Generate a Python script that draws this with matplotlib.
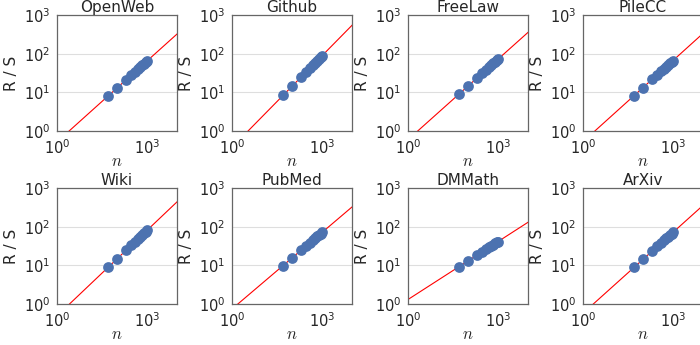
import matplotlib
matplotlib.use("Agg")
import matplotlib.pyplot as plt
import numpy as np

plt.rcParams['font.family'] = ['DejaVu Sans']
plt.rcParams['mathtext.fontset'] = 'cm'

titles = ["OpenWeb", "Github", "FreeLaw", "PileCC",
          "Wiki", "PubMed", "DMMath", "ArXiv"]
n_vals = [50, 100, 200, 300, 400, 500, 600, 700, 800, 900, 1000]

rs_openweb = [8.0, 13.0, 21.0, 27.9, 34.0, 39.8, 45.2, 50.4, 55.3, 60.0, 64.8]
rs_github = [8.3, 14.3, 24.7, 34.0, 42.7, 51.0, 58.9, 66.5, 73.9, 81.0, 88.0]
rs_freelaw = [9.0, 14.6, 23.5, 31.0, 38.0, 44.5, 50.5, 56.0, 61.5, 67.0, 72.0]
rs_pilecc = [8.2, 13.3, 21.5, 28.5, 35.0, 41.0, 46.5, 52.0, 57.0, 62.0, 66.5]
rs_wiki = [8.8, 14.7, 24.5, 33.0, 40.8, 48.2, 55.0, 61.6, 68.0, 74.2, 80.0]
rs_pubmed = [9.8, 15.5, 24.5, 32.0, 38.7, 44.8, 50.5, 55.9, 61.0, 66.0, 70.7]
rs_dmmath = [9.2, 13.0, 18.5, 22.6, 26.0, 29.1, 31.9, 34.4, 36.8, 39.0, 41.0]
rs_arxiv = [8.8, 14.3, 23.2, 30.8, 37.6, 44.0, 50.0, 55.6, 61.0, 66.0, 71.0]

series = [rs_openweb, rs_github, rs_freelaw, rs_pilecc,
          rs_wiki, rs_pubmed, rs_dmmath, rs_arxiv]

W, H = 700, 345
fig = plt.figure(figsize=(W / 100, H / 100), dpi=100)

lefts = [57, 232, 408, 583]
tops = [15, 188]
aw, ah = 120, 116

text_col = '#262626'
for i, (title, rs) in enumerate(zip(titles, series)):
    r, c = divmod(i, 4)
    ax = fig.add_axes([lefts[c] / W, (H - tops[r] - ah) / H, aw / W, ah / H])
    ax.set_xscale('log')
    ax.set_yscale('log')
    ax.set_xlim(1, 1e4)
    ax.set_ylim(1, 1e3)

    # fit line R/S = c * n^H in log space
    slope, icpt = np.polyfit(np.log10(n_vals), np.log10(rs), 1)
    xs = np.array([1, 1e4])
    ax.plot(xs, 10 ** icpt * xs ** slope, color='red', lw=0.8, zorder=2)
    ax.scatter(n_vals, rs, s=60, color='#4C72B0', linewidths=0, zorder=3)

    ax.set_xticks([1, 1000])
    ax.set_yticks([1, 10, 100, 1000])
    ax.minorticks_off()
    ax.grid(axis='y', color='#dedede', lw=0.8)
    ax.set_axisbelow(True)
    ax.tick_params(length=0, pad=5, labelsize=10.5, colors=text_col)
    for sp in ax.spines.values():
        sp.set_color('#666666')
        sp.set_linewidth(0.9)
    ax.set_title(title, fontsize=11, color=text_col, pad=2)
    ax.set_ylabel('R / S', fontsize=11, color=text_col, labelpad=3)
    ax.set_xlabel('$n$', fontsize=12, color=text_col)
    ax.xaxis.set_label_coords(0.5, -0.185)

fig.savefig('out.png', dpi=100)
